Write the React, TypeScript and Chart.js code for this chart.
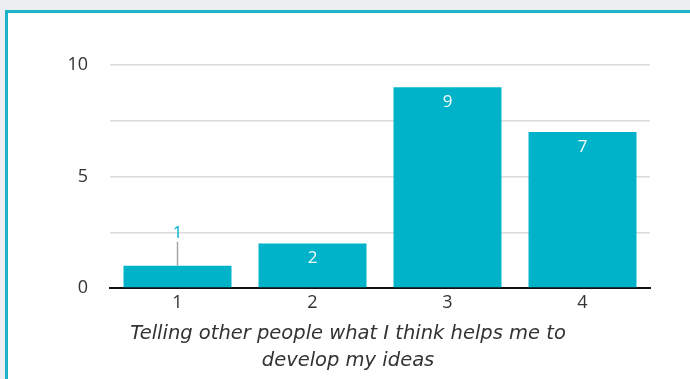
import React, { useEffect, useRef } from "react";
import { Chart, registerables } from "chart.js";

Chart.register(...registerables);

const categories = ["1", "2", "3", "4"];
const counts = [1, 2, 9, 7];
const yTickValues = [0, 5, 10];
const axisTitle = ["Telling other people what I think helps me to", "develop my ideas"];

const TEAL = "#00b3c9";
const FONT = "'Open Sans', 'DejaVu Sans', sans-serif";
const TITLE_FONT = "'DejaVu Sans', sans-serif";

const barLabels = {
  id: "barLabels",
  afterDatasetsDraw(chart: any) {
    const ctx = chart.ctx;
    const meta = chart.getDatasetMeta(0);
    const data = chart.data.datasets[0].data as number[];
    ctx.save();
    ctx.font = `17px ${FONT}`;
    ctx.textAlign = "center";
    ctx.textBaseline = "middle";
    meta.data.forEach((bar: any, i: number) => {
      const h = bar.base - bar.y;
      const text = String(data[i]);
      if (h > 32) {
        ctx.fillStyle = "#f4fbfc";
        ctx.fillText(text, bar.x, bar.y + 15);
      } else {
        ctx.strokeStyle = "#a6a6a6";
        ctx.lineWidth = 1.5;
        ctx.beginPath();
        ctx.moveTo(bar.x, bar.y);
        ctx.lineTo(bar.x, bar.y - 24);
        ctx.stroke();
        ctx.fillStyle = TEAL;
        ctx.fillText(text, bar.x, bar.y - 33);
      }
    });
    ctx.restore();
  },
};

// Axis title centred on the whole card (as in the reference), below the x scale
const axisTitlePlugin = {
  id: "axisTitlePlugin",
  afterDraw(chart: any) {
    const ctx = chart.ctx;
    const xs = chart.scales.x;
    ctx.save();
    ctx.font = `italic 19.5px ${TITLE_FONT}`;
    ctx.fillStyle = "#333";
    ctx.textAlign = "center";
    ctx.textBaseline = "middle";
    const cx = 348;
    axisTitle.forEach((line, i) => {
      ctx.fillText(line, cx, xs.top + 46 + i * 27);
    });
    ctx.restore();
  },
};

export default function App() {
  const ref = useRef<HTMLCanvasElement>(null);
  useEffect(() => {
    if (!ref.current) return;
    const chart = new Chart(ref.current, {
      type: "bar",
      data: {
        labels: categories,
        datasets: [
          {
            data: counts,
            backgroundColor: TEAL,
            borderWidth: 0,
            categoryPercentage: 0.8,
            barPercentage: 1.0,
          },
        ],
      },
      options: {
        responsive: false,
        animation: false,
        layout: { padding: { top: 65, right: 40, left: 0, bottom: 0 } },
        plugins: { legend: { display: false }, tooltip: { enabled: false } },
        scales: {
          x: {
            grid: { display: false, drawTicks: false },
            border: { display: true, color: "#111", width: 2 },
            ticks: { color: "#333", font: { family: FONT, size: 18 }, padding: 4 },
            title: { display: false },
            afterFit(scale: any) {
              scale.height = 91;
            },
          },
          y: {
            min: 0,
            max: 10,
            grid: { color: "#dcdcdc", lineWidth: 1.5, drawTicks: false },
            border: { display: false },
            ticks: {
              stepSize: 2.5,
              color: "#333",
              font: { family: FONT, size: 18 },
              padding: 22,
              callback: (v: any) => (yTickValues.includes(Number(v)) ? String(v) : ""),
            },
            afterFit(scale: any) {
              scale.width = 110;
            },
          },
        },
      },
      plugins: [barLabels, axisTitlePlugin],
    });
    return () => chart.destroy();
  }, []);

  return (
    <div
      style={{
        position: "fixed",
        left: 0,
        top: 0,
        width: 690,
        height: 379,
        background: "#eceef1",
        overflow: "hidden",
      }}
    >
      <div
        style={{
          position: "absolute",
          left: 5,
          top: 10,
          width: 720,
          height: 420,
          background: "#ffffff",
          borderTop: "3px solid #1ab3c7",
          borderLeft: "3px solid #1ab3c7",
          boxSizing: "border-box",
        }}
      />
      <canvas
        ref={ref}
        width={690}
        height={379}
        style={{ position: "absolute", left: 0, top: 0, width: 690, height: 379 }}
      />
    </div>
  );
}
